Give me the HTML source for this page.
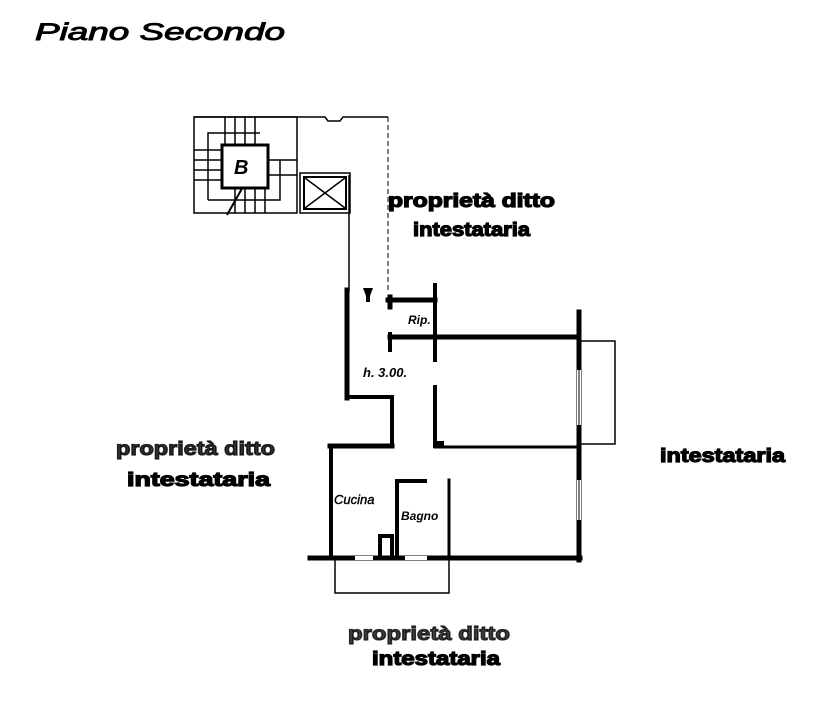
<!DOCTYPE html>
<html><head><meta charset="utf-8"><style>
html,body{margin:0;padding:0;background:#fff;}
svg{display:block;}
.t{font-family:"Liberation Sans",sans-serif;font-weight:bold;font-size:19px;fill:#000;stroke:#000;stroke-width:1.2;}
.h{font-family:"Liberation Sans",sans-serif;font-style:italic;fill:#000;}
</style></head><body>
<svg width="821" height="711" viewBox="0 0 821 711" xmlns="http://www.w3.org/2000/svg">
<text x="35" y="40" class="h" font-size="24" textLength="250" lengthAdjust="spacingAndGlyphs" stroke="#000" stroke-width="0.9">Piano  Secondo</text>

<!-- stair block -->
<g stroke="#000" fill="none" stroke-width="1.5">
<path d="M194 117 H325 L328 121 H340 L343 117 H388"/>
<rect x="194" y="117" width="103" height="96"/>
<line x1="349" y1="175" x2="349" y2="292"/>
<line x1="388" y1="117" x2="388" y2="292" stroke-dasharray="5,3" stroke-width="1"/>
<rect x="300" y="173" width="50" height="40"/>
<rect x="304" y="177" width="42" height="32" stroke-width="2"/>
<line x1="305" y1="178" x2="345" y2="208"/><line x1="345" y1="178" x2="305" y2="208"/>
<line x1="225" y1="117" x2="225" y2="145"/><line x1="235" y1="117" x2="235" y2="145"/><line x1="245" y1="117" x2="245" y2="145"/><line x1="255" y1="117" x2="255" y2="145"/>
<line x1="194" y1="150" x2="222" y2="150"/><line x1="194" y1="160" x2="222" y2="160"/><line x1="194" y1="170" x2="222" y2="170"/><line x1="194" y1="180" x2="222" y2="180"/>
<line x1="235" y1="188" x2="235" y2="213"/><line x1="245" y1="188" x2="245" y2="213"/><line x1="255" y1="188" x2="255" y2="213"/><line x1="265" y1="188" x2="265" y2="213"/>
<line x1="268" y1="160" x2="297" y2="160"/><line x1="268" y1="175" x2="297" y2="175"/>
<path d="M208 200 V133 H260"/><path d="M208 200 H280 V160"/>
<line x1="227" y1="215" x2="244" y2="185" stroke-width="2"/>
</g>
<rect x="222" y="145" width="46" height="43" fill="#fff" stroke="#000" stroke-width="3"/>
<text x="234" y="174" class="h" font-size="20" font-weight="bold">B</text>

<!-- main walls -->
<g stroke="#000" fill="none" stroke-linecap="square">
<line x1="347" y1="290" x2="347" y2="398" stroke-width="5"/>
<path d="M349 397 H392 V445" stroke-width="4"/>
<line x1="330" y1="446" x2="392" y2="446" stroke-width="5"/>
<line x1="331" y1="446" x2="331" y2="558" stroke-width="4"/>
<line x1="310" y1="558" x2="580" y2="558" stroke-width="5"/>
<line x1="579" y1="312" x2="579" y2="560" stroke-width="5"/>
<line x1="435" y1="337" x2="579" y2="337" stroke-width="5"/>
<path d="M388 300 H435" stroke-width="5"/>
<line x1="435" y1="285" x2="435" y2="360" stroke-width="4"/>
<line x1="390" y1="297" x2="390" y2="307" stroke-width="5"/>
<line x1="390" y1="337" x2="435" y2="337" stroke-width="5"/>
<line x1="390" y1="334" x2="390" y2="350" stroke-width="4"/>
<line x1="435" y1="387" x2="435" y2="446" stroke-width="4"/>
<line x1="435" y1="447" x2="579" y2="447" stroke-width="3"/>
<rect x="434" y="441" width="10" height="7" fill="#000" stroke="none"/>
<path d="M397 558 V481 H425" stroke-width="4"/>
<line x1="449" y1="480" x2="449" y2="558" stroke-width="3"/>
<path d="M380 558 V536 H392 V558" stroke-width="4"/>
</g>
<!-- windows (gaps) -->
<rect x="577" y="370" width="4" height="55" fill="#fff"/>
<line x1="579" y1="370" x2="579" y2="425" stroke="#000" stroke-width="1"/>
<rect x="577" y="480" width="4" height="40" fill="#fff"/>
<line x1="579" y1="480" x2="579" y2="520" stroke="#000" stroke-width="1"/>
<rect x="355" y="556" width="18" height="4" fill="#fff"/>
<rect x="405" y="556" width="22" height="4" fill="#fff"/>
<!-- balconies -->
<g stroke="#000" fill="none" stroke-width="1.5">
<path d="M581 341 H615 V444 H581"/>
<path d="M335 560 V593 H449 V560"/>
</g>
<path d="M363 288 H373 L370 296 V302 H366 V296 Z" fill="#000"/>

<text x="408" y="324" class="h" font-size="12" font-weight="bold">Rip.</text>
<text x="363" y="377" class="h" font-size="13" font-weight="bold">h. 3.00.</text>
<text x="334" y="504" class="h" font-size="13" stroke="#000" stroke-width="0.4">Cucina</text>
<text x="401" y="520" class="h" font-size="12" font-weight="bold">Bagno</text>

<text x="388" y="207" class="t" textLength="167" lengthAdjust="spacingAndGlyphs">proprietà ditto</text>
<text x="413" y="236" class="t" textLength="117" lengthAdjust="spacingAndGlyphs">intestataria</text>
<text x="116" y="455" class="t" textLength="159" lengthAdjust="spacingAndGlyphs" fill-opacity="0.8" stroke-opacity="0.8">proprietà ditto</text>
<text x="127" y="486" class="t" textLength="143" lengthAdjust="spacingAndGlyphs">intestataria</text>
<text x="660" y="462" class="t" textLength="125" lengthAdjust="spacingAndGlyphs">intestataria</text>
<text x="348" y="640" class="t" textLength="162" lengthAdjust="spacingAndGlyphs" fill-opacity="0.75" stroke-opacity="0.75">proprietà ditto</text>
<text x="372" y="665" class="t" textLength="128" lengthAdjust="spacingAndGlyphs">intestataria</text>
</svg>
</body></html>
